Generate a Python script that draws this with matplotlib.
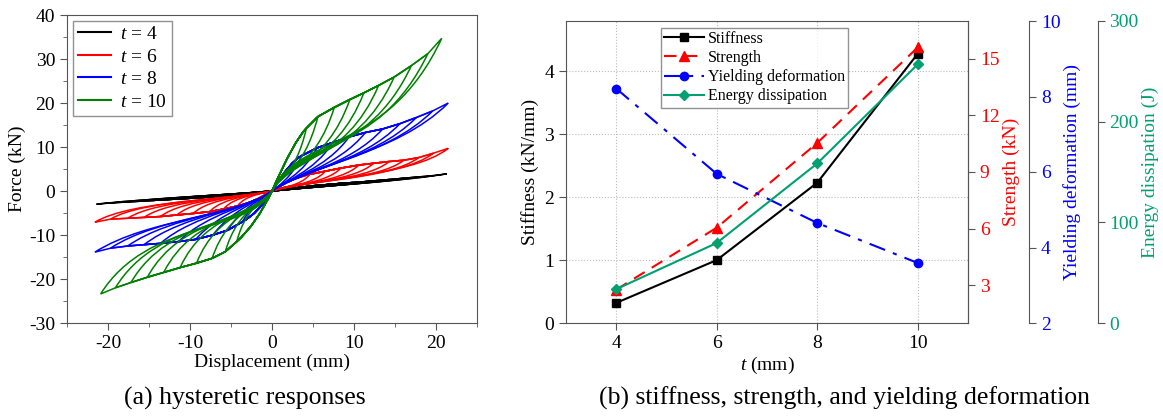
import numpy as np
import matplotlib
matplotlib.use('Agg')
import matplotlib.pyplot as plt
from matplotlib.path import Path
from matplotlib.patches import PathPatch
from matplotlib.lines import Line2D
from matplotlib.ticker import MultipleLocator

plt.rcParams['font.family'] = ['Liberation Serif', 'DejaVu Serif']
plt.rcParams['mathtext.fontset'] = 'custom'
plt.rcParams['mathtext.it'] = 'Liberation Serif:italic'
plt.rcParams['mathtext.rm'] = 'Liberation Serif'
plt.rcParams['axes.unicode_minus'] = False

# ---------------- Panel (a) data: cycle peaks (displacement mm, force kN) ----------------
series_labels = [r'$t$ = 4', r'$t$ = 6', r'$t$ = 8', r'$t$ = 10']
series_colors = ['black', '#ff0000', '#0000ff', '#008000']

t4_pos_x = [5.1, 7.0, 8.8, 10.6, 12.4, 14.3, 16.1, 17.9, 19.7, 21.3]
t4_pos_F = [1.2, 1.5, 1.8, 2.0, 2.3, 2.6, 2.9, 3.2, 3.5, 3.9]
t4_neg_x = [-5.3, -7.2, -9.0, -10.9, -12.8, -14.6, -16.4, -18.2, -19.9, -21.4]
t4_neg_F = [-1.0, -1.3, -1.55, -1.75, -1.95, -2.15, -2.35, -2.55, -2.75, -3.0]

t6_pos_x = [4.6, 6.5, 8.4, 10.6, 12.4, 14.3, 16.1, 17.9, 19.7, 21.5]
t6_pos_F = [3.8, 4.5, 5.2, 5.9, 6.3, 6.7, 7.0, 7.6, 8.6, 9.7]
t6_neg_x = [-4.2, -5.9, -7.6, -9.6, -11.6, -13.6, -15.6, -17.6, -19.7, -21.6]
t6_neg_F = [-3.4, -4.1, -4.7, -5.1, -5.45, -5.8, -6.0, -6.2, -6.4, -7.1]

t8_pos_x = [3.6, 5.5, 7.4, 9.4, 11.4, 13.5, 15.6, 17.6, 19.6, 21.5]
t8_pos_F = [8.0, 9.8, 11.0, 12.3, 13.3, 14.1, 15.3, 16.7, 18.2, 20.0]
t8_neg_x = [-3.6, -5.4, -7.2, -9.3, -11.4, -13.6, -15.6, -17.6, -19.7, -21.6]
t8_neg_F = [-7.0, -8.9, -10.0, -11.0, -11.5, -11.9, -12.2, -12.5, -13.0, -13.9]

t10_pos_x = [4.2, 5.6, 7.6, 9.5, 11.2, 13.0, 14.9, 17.0, 19.0, 20.7]
t10_pos_F = [14.3, 16.9, 19.0, 20.8, 22.3, 24.0, 25.9, 28.5, 31.2, 34.7]
t10_neg_x = [-4.3, -5.7, -7.3, -9.2, -11.2, -13.2, -15.2, -17.2, -19.1, -20.9]
t10_neg_F = [-11.5, -13.8, -15.3, -16.4, -17.4, -18.5, -19.6, -20.8, -22.0, -23.4]

# curve shape (read from the outer loops): initial loading control point,
# return-curve control points as fractions of the peak and initial slope
load_pos_ctrl = [(2.5, 0.65), (2.5, 3.0), (2.2, 6.7), (2.66, 11.4)]
load_neg_ctrl = [(-2.6, -0.55), (-2.4, -2.7), (-1.6, -4.9), (-1.9, -7.5)]
ret_pos_c1 = [(0.80, 0.64), (0.79, 0.31), (0.70, 0.40), (0.676, 0.23)]
ret_pos_c2 = [(0.188, 0.20), (0.186, 0.75), (0.186, 1.5), (0.145, 4.33)]
ret_neg_c1 = [(0.80, 0.67), (0.79, 0.28), (0.69, 0.43), (0.72, 0.26)]
ret_neg_c2 = [(0.187, 0.175), (0.185, 0.5), (0.185, 1.5), (0.144, 3.33)]

pos_x = [t4_pos_x, t6_pos_x, t8_pos_x, t10_pos_x]
pos_F = [t4_pos_F, t6_pos_F, t8_pos_F, t10_pos_F]
neg_x = [t4_neg_x, t6_neg_x, t8_neg_x, t10_neg_x]
neg_F = [t4_neg_F, t6_neg_F, t8_neg_F, t10_neg_F]

# ---------------- Panel (b) data ----------------
t_mm = [4, 6, 8, 10]
stiffness = [0.32, 1.0, 2.23, 4.28]
strength = [2.77, 6.05, 10.54, 15.6]
yielding = [8.21, 5.95, 4.65, 3.59]
energy = [33.6, 79.5, 158.5, 257]

FS_TICK = 14
FS_LAB = 14
FS_CAP = 18.5
SPINE = '#555555'
TEAL = '#00a070'

fig = plt.figure(figsize=(11.63, 4.16), dpi=100)

# ======== Panel (a) ========
axa = fig.add_axes([67/1163, 93/416, 410/1163, 308/416])


def half_loop(xs, Fs, k, qctrl, c1r, c2r):
    verts = [(0, 0), qctrl, (xs[0], Fs[0])]
    codes = [Path.MOVETO, Path.CURVE3, Path.CURVE3]
    for j in range(1, k + 1):
        verts.append((xs[j], Fs[j]))
        codes.append(Path.LINETO)
    xp, Fp = xs[k], Fs[k]
    c1 = (c1r[0] * xp, c1r[1] * Fp)
    c2 = (c2r[0] * xp, c2r[0] * xp * c2r[1])
    verts += [c1, c2, (0, 0)]
    codes += [Path.CURVE4, Path.CURVE4, Path.CURVE4]
    return Path(verts, codes)


for s in range(4):
    for k in range(len(pos_x[s])):
        for path in (half_loop(pos_x[s], pos_F[s], k, load_pos_ctrl[s], ret_pos_c1[s], ret_pos_c2[s]),
                     half_loop(neg_x[s], neg_F[s], k, load_neg_ctrl[s], ret_neg_c1[s], ret_neg_c2[s])):
            axa.add_patch(PathPatch(path, facecolor='none', edgecolor=series_colors[s],
                                    lw=1.1, transform=axa.transData, zorder=2 + s))

axa.set_xlim(-25, 25)
axa.set_ylim(-30, 40)
axa.xaxis.set_major_locator(MultipleLocator(10))
axa.xaxis.set_minor_locator(MultipleLocator(5))
axa.yaxis.set_major_locator(MultipleLocator(10))
axa.yaxis.set_minor_locator(MultipleLocator(5))
axa.tick_params(which='both', direction='out', labelsize=FS_TICK, color=SPINE)
axa.tick_params(which='major', length=5)
axa.tick_params(which='minor', length=3)
for sp in axa.spines.values():
    sp.set_color(SPINE)
axa.set_xlabel('Displacement (mm)', fontsize=FS_LAB, labelpad=1)
axa.set_ylabel('Force (kN)', fontsize=FS_LAB, labelpad=2)
handles_a = [Line2D([], [], color=c, lw=1.5) for c in series_colors]
axa.legend(handles_a, series_labels, loc='upper left', fontsize=FS_LAB, frameon=True,
           fancybox=False, edgecolor='#777777', handlelength=1.7, handletextpad=0.5,
           labelspacing=0.25, borderpad=0.25, borderaxespad=0.3)

# ======== Panel (b) ========
axb = fig.add_axes([566/1163, 93/416, 402/1163, 302/416])
axb.set_xlim(3, 11)
axb.set_ylim(0, 4.8)
axb.set_xticks(t_mm)
axb.set_yticks([0, 1, 2, 3, 4])
axb.grid(True, ls=':', color='#bbbbbb', lw=0.8)
axb.set_axisbelow(True)
l1, = axb.plot(t_mm, stiffness, color='black', lw=1.5, marker='s', ms=6, label='Stiffness', zorder=5)
axb.set_xlabel(r'$t$ (mm)', fontsize=FS_LAB, labelpad=2)
axb.set_ylabel('Stiffness (kN/mm)', fontsize=FS_LAB, labelpad=4)
axb.tick_params(direction='out', labelsize=FS_TICK, color=SPINE, length=5)
for sp in axb.spines.values():
    sp.set_color(SPINE)

axs = axb.twinx()
l2, = axs.plot(t_mm, strength, color='#ff0000', lw=1.5, ls=(0, (6, 4)), marker='^', ms=7, label='Strength')
axs.set_ylim(1, 17)
axs.set_yticks([3, 6, 9, 12, 15])
axs.set_ylabel('Strength (kN)', color='#ff0000', fontsize=FS_LAB, labelpad=2)
axs.tick_params(axis='y', colors='#ff0000', labelsize=FS_TICK, direction='out', length=5)

axy = axb.twinx()
axy.spines['right'].set_position(('axes', 1 + 61/402))
l3, = axy.plot(t_mm, yielding, color='#0000ff', lw=1.5, ls=(0, (8, 4, 2, 4)), marker='o', ms=6,
               label='Yielding deformation')
axy.set_ylim(2, 10)
axy.set_yticks([2, 4, 6, 8, 10])
axy.set_ylabel('Yielding deformation (mm)', color='#0000ff', fontsize=FS_LAB, labelpad=2)
axy.tick_params(axis='y', colors='#0000ff', labelsize=FS_TICK, direction='out', length=5)

axe = axb.twinx()
axe.spines['right'].set_position(('axes', 1 + 129.7/402))
l4, = axe.plot(t_mm, energy, color=TEAL, lw=1.5, marker='D', ms=5.5, label='Energy dissipation')
axe.set_ylim(0, 300)
axe.set_yticks([0, 100, 200, 300])
axe.set_ylabel('Energy dissipation (J)', color=TEAL, fontsize=FS_LAB, labelpad=2)
axe.tick_params(axis='y', colors=TEAL, labelsize=FS_TICK, direction='out', length=5)

for ax in (axs, axy, axe):
    for name in ('left', 'top', 'bottom'):
        ax.spines[name].set_visible(False)
    ax.spines['right'].set_color(SPINE)
    ax.tick_params(axis='y', color=SPINE)

leg = axe.legend([l1, l2, l3, l4], [l.get_label() for l in (l1, l2, l3, l4)],
                 loc='upper left', bbox_to_anchor=(0.237, 0.978), fontsize=11.5,
                 frameon=True, fancybox=False, edgecolor='#777777', handlelength=2.5,
                 handletextpad=0.2, labelspacing=0.2, borderpad=0.2, borderaxespad=0)
leg.set_zorder(20)

fig.text(245/1163, 18/416, '(a) hysteretic responses', ha='center', va='center', fontsize=FS_CAP)
fig.text(844/1163, 18/416, '(b) stiffness, strength, and yielding deformation', ha='center',
         va='center', fontsize=FS_CAP)

fig.savefig('out.png', dpi=100)
